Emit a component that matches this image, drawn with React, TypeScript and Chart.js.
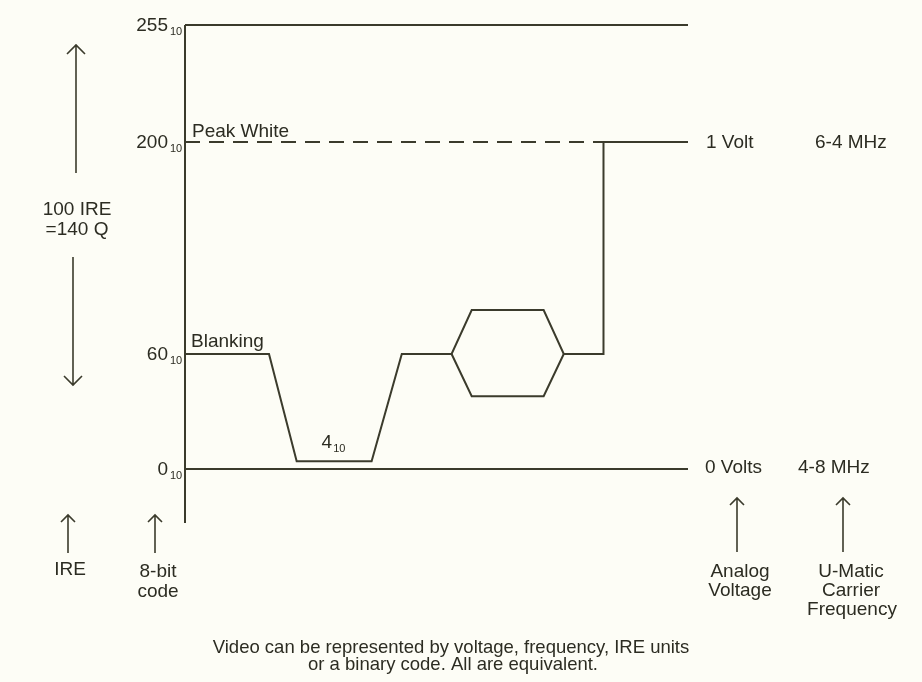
import React, { useEffect, useRef } from 'react';
import { Chart, registerables, LinearScale } from 'chart.js';

Chart.register(...registerables);

// ---- data (x: time across the line, 0..100 arbitrary units; y: 8-bit code value) ----
const waveTime = [0, 16.7, 22.2, 37.1, 43.1, 53.0, 57.0, 71.3, 75.3, 83.2, 83.2, 100];
const waveCode = [60, 60, 4, 4, 60, 60, 89, 89, 60, 60, 200, 200];
const burstLowerTime = [53.0, 57.0, 71.3, 75.3];
const burstLowerCode = [60, 38, 38, 60];
const lineStartTime = 0;
const lineEndTime = 100;
const peakWhiteDashEnd = 83.2;
const syncTipStart = 22.2;
const syncTipEnd = 37.1;
const codeMax = 255;
const codePeakWhite = 200;
const codeBlanking = 60;
const codeSyncTip = 4;
const codeZero = 0;
const axisBottomCode = -28;
const levelCodes = [255, 200, 60, 0];
const levelLabels = ['255', '200', '60', '0'];

// schematic (not-to-scale) vertical axis: code value -> fraction of plot height
const breakCodes = [-28, 0, 60, 200, 255];
const breakFractions = [0, 0.1084, 0.3394, 0.7651, 1];

class SchematicScale extends LinearScale {
  static id = 'schematic';
  static defaults = LinearScale.defaults;
  getPixelForValue(value: any) {
    if (value === null || value === undefined || isNaN(value)) return NaN;
    let i = 0;
    while (i < breakCodes.length - 2 && value > breakCodes[i + 1]) i++;
    const t = (value - breakCodes[i]) / (breakCodes[i + 1] - breakCodes[i]);
    const dec = breakFractions[i] + t * (breakFractions[i + 1] - breakFractions[i]);
    return (this as any).getPixelForDecimal(dec);
  }
  getValueForPixel(pixel: number) {
    const dec = (this as any).getDecimalForPixel(pixel);
    let i = 0;
    while (i < breakFractions.length - 2 && dec > breakFractions[i + 1]) i++;
    const t = (dec - breakFractions[i]) / (breakFractions[i + 1] - breakFractions[i]);
    return breakCodes[i] + t * (breakCodes[i + 1] - breakCodes[i]);
  }
}
Chart.register(SchematicScale as any);

const INK = '#3b3b2c';
const TEXT = '#2c2c22';
const BG = '#fdfdf6';
const FONT = '"Liberation Sans", Arial, Helvetica, sans-serif';

const pts = (xs: number[], ys: number[]) => xs.map((x, i) => ({ x, y: ys[i] }));

function arrow(ctx: CanvasRenderingContext2D, x: number, yTail: number, yHead: number, h: number) {
  const dir = yHead < yTail ? 1 : -1;
  ctx.beginPath();
  ctx.moveTo(x, yTail);
  ctx.lineTo(x, yHead);
  ctx.moveTo(x - h, yHead + dir * h);
  ctx.lineTo(x, yHead);
  ctx.lineTo(x + h, yHead + dir * h);
  ctx.stroke();
}

const annotations = {
  id: 'annotations',
  beforeDraw(chart: any) {
    const ctx = chart.ctx;
    ctx.save();
    ctx.fillStyle = BG;
    ctx.fillRect(0, 0, chart.width, chart.height);
    ctx.restore();
  },
  afterDraw(chart: any) {
    const ctx: CanvasRenderingContext2D = chart.ctx;
    const xs = chart.scales.x;
    const ys = chart.scales.y;
    const area = chart.chartArea;
    ctx.save();
    ctx.fillStyle = TEXT;
    ctx.strokeStyle = INK;
    ctx.textBaseline = 'alphabetic';

    // level labels with base-10 subscript
    levelCodes.forEach((c, i) => {
      const y = ys.getPixelForValue(c);
      ctx.font = `19px ${FONT}`;
      ctx.textAlign = 'right';
      ctx.fillText(levelLabels[i], area.left - 17, y + 6);
      ctx.font = `11px ${FONT}`;
      ctx.textAlign = 'left';
      ctx.fillText('10', area.left - 15, y + 10);
    });

    // sync tip label 4₁₀
    {
      const cx = xs.getPixelForValue((syncTipStart + syncTipEnd) / 2);
      const y = ys.getPixelForValue(codeSyncTip);
      ctx.font = `19px ${FONT}`;
      ctx.textAlign = 'right';
      ctx.fillText('4', cx - 2, y - 13);
      ctx.font = `11px ${FONT}`;
      ctx.textAlign = 'left';
      ctx.fillText('10', cx - 1, y - 9);
    }

    ctx.font = `19px ${FONT}`;
    ctx.textAlign = 'left';
    const yPW = ys.getPixelForValue(codePeakWhite);
    const yBl = ys.getPixelForValue(codeBlanking);
    const y0 = ys.getPixelForValue(codeZero);
    ctx.fillText('Peak White', area.left + 7, yPW - 5);
    ctx.fillText('Blanking', area.left + 6, yBl - 7);
    ctx.fillText('1 Volt', area.right + 18, yPW + 6);
    ctx.fillText('6-4 MHz', area.right + 127, yPW + 6);
    ctx.fillText('0 Volts', area.right + 17, y0 + 4);
    ctx.fillText('4-8 MHz', area.right + 110, y0 + 4);

    // left-side IRE span
    ctx.textAlign = 'center';
    ctx.fillText('100 IRE', 77, 215);
    ctx.fillText('=140 Q', 77, 235);

    // bottom captions of arrows
    ctx.fillText('IRE', 70, 575);
    ctx.fillText('8-bit', 158, 577);
    ctx.fillText('code', 158, 597);
    ctx.fillText('Analog', 740, 577);
    ctx.fillText('Voltage', 740, 596);
    ctx.fillText('U-Matic', 851, 577);
    ctx.fillText('Carrier', 851, 596);
    ctx.fillText('Frequency', 852, 615);

    ctx.font = `18.5px ${FONT}`;
    ctx.fillText('Video can be represented by voltage, frequency, IRE units', 451, 653);
    ctx.fillText('or a binary code. All are equivalent.', 453, 670);

    // arrows
    ctx.lineWidth = 1.6;
    arrow(ctx, 76, 173, 45, 9);
    arrow(ctx, 73, 257, 385, 9);
    arrow(ctx, 68, 553, 515, 7);
    arrow(ctx, 155, 553, 515, 7);
    arrow(ctx, 737, 552, 498, 7);
    arrow(ctx, 843, 552, 498, 7);
    ctx.restore();
  },
};

export default function App() {
  const ref = useRef<HTMLCanvasElement | null>(null);
  useEffect(() => {
    document.body.style.margin = '0';
    document.body.style.background = BG;
    const base = {
      borderColor: INK,
      borderWidth: 2,
      pointRadius: 0,
      showLine: true,
      fill: false,
      tension: 0,
      clip: false as any,
    };
    const chart = new Chart(ref.current as HTMLCanvasElement, {
      type: 'scatter',
      data: {
        datasets: [
          { ...base, label: 'Peak white (dashed)', data: pts([lineStartTime, peakWhiteDashEnd], [codePeakWhite, codePeakWhite]), borderDash: [15, 9] },
          { ...base, label: '255 level', data: pts([lineStartTime, lineEndTime], [codeMax, codeMax]) },
          { ...base, label: '0 level', data: pts([lineStartTime, lineEndTime], [codeZero, codeZero]) },
          { ...base, label: 'Code axis', data: pts([lineStartTime, lineStartTime], [axisBottomCode, codeMax]) },
          { ...base, label: 'Video waveform', data: pts(waveTime, waveCode) },
          { ...base, label: 'Burst lower', data: pts(burstLowerTime, burstLowerCode) },
        ] as any,
      },
      options: {
        responsive: false,
        animation: false,
        events: [],
        layout: { padding: { left: 185, right: 234, top: 25, bottom: 159 } },
        scales: {
          x: { type: 'linear', min: lineStartTime, max: lineEndTime, display: false },
          y: { type: 'schematic' as any, min: axisBottomCode, max: codeMax, display: false },
        },
        plugins: { legend: { display: false }, tooltip: { enabled: false } },
      } as any,
      plugins: [annotations],
    });
    return () => chart.destroy();
  }, []);
  return (
    <div style={{ position: 'absolute', left: 0, top: 0, width: 922, height: 682, background: BG }}>
      <canvas ref={ref} width={922} height={682} style={{ display: 'block', width: 922, height: 682 }} />
    </div>
  );
}
